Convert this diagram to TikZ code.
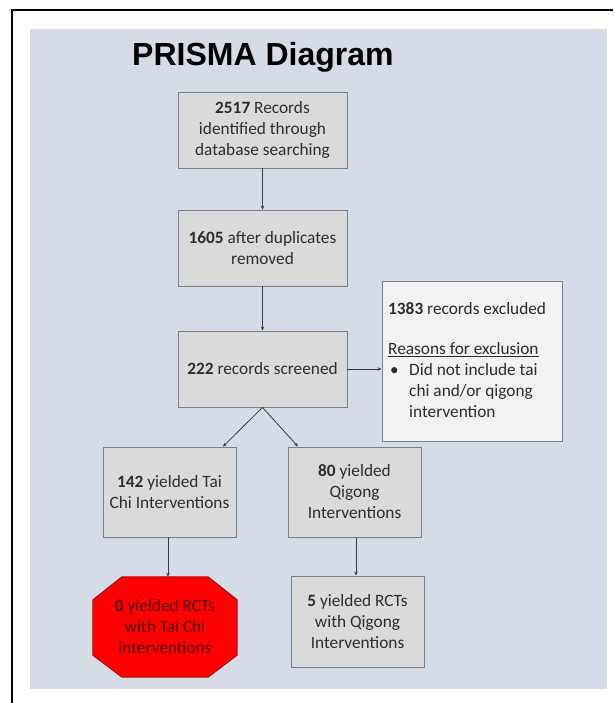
\documentclass[tikz,border=0pt]{standalone}
\usepackage{fontspec}
\setmainfont{Carlito}
\newfontfamily\titlefont{Liberation Sans}
\usetikzlibrary{arrows.meta,calc}
\definecolor{panel}{RGB}{214,220,229}
\definecolor{boxfill}{RGB}{218,218,218}
\definecolor{boxline}{RGB}{118,128,146}
\definecolor{exfill}{RGB}{242,242,242}
\definecolor{txt}{RGB}{45,45,45}
\definecolor{arrowc}{RGB}{60,60,64}
\definecolor{octred}{RGB}{255,0,0}
\definecolor{octline}{RGB}{150,20,20}
\definecolor{octtxt}{RGB}{80,0,0}
\newcommand{\ulx}[1]{\setbox0=\hbox{#1}\rlap{\rule[-3pt]{\wd0}{1.2pt}}#1}
\begin{document}
\begin{tikzpicture}[x=1pt,y=-1pt,
  box/.style={draw=boxline,line width=0.9pt,fill=boxfill,inner sep=2pt,align=center,
    text=txt,font=\fontsize{17.3}{21}\selectfont},
  arr/.style={draw=arrowc,line width=0.8pt,-{Stealth[length=4pt,width=3.5pt]}}]
\useasboundingbox (0,0) rectangle (613,703);
\fill[white] (0,0) rectangle (613,703);
% outer frame lines
\draw[black,line width=1.3pt] (12,703) -- (12,10) -- (613,10);
% panel
\fill[panel] (30,29) rectangle (607,689);
% title
\node[anchor=base west,inner sep=0pt,font=\titlefont\bfseries\fontsize{32}{36}\selectfont] (title) at (132,66) {PRISMA Diagram};
% boxes
\node[box,minimum width=169pt,minimum height=76pt] (b1) at (262.5,130) {\textbf{2517} Records\\identified through\\database searching};
\node[box,minimum width=169pt,minimum height=76pt] (b2) at (262.5,248) {\textbf{1605} after duplicates\\removed};
\node[box,minimum width=169pt,minimum height=76pt] (b3) at (262.5,369) {\textbf{222} records screened};
\node[box,fill=exfill,minimum width=180pt,minimum height=160pt] (ex) at (472,361) {};
\node[anchor=north west,inner sep=0pt,align=left,text=txt,font=\fontsize{17.3}{21}\selectfont] (extext) at (388,302)
  {\textbf{1383} records excluded\\[19pt]
   \ulx{Reasons for exclusion}\\
   \makebox[21pt][l]{\hspace*{2pt}•}Did not include tai\\
   \hspace*{21pt}chi and/or qigong\\
   \hspace*{21pt}intervention};
\node[box,minimum width=133pt,minimum height=90pt] (tc) at (169.5,492) {\textbf{142} yielded Tai\\Chi Interventions};
\node[box,minimum width=133pt,minimum height=90pt] (qg) at (354.5,492) {\textbf{80} yielded\\Qigong\\Interventions};
\node[box,minimum width=133pt,minimum height=91pt] (q5) at (357.5,621.5) {\textbf{5} yielded RCTs\\with Qigong\\Interventions};
% octagon
\node[minimum width=144pt,minimum height=100pt,inner sep=0pt] (oct) at (165,627) {};
\draw[fill=octred,draw=octline,line width=0.8pt]
  ($(oct.north west)+(29,0)$) -- ($(oct.north east)+(-29,0)$) -- ($(oct.north east)+(0,23)$) --
  ($(oct.south east)+(0,-22)$) -- ($(oct.south east)+(-29,0)$) -- ($(oct.south west)+(29,0)$) --
  ($(oct.south west)+(0,-22)$) -- ($(oct.north west)+(0,23)$) -- cycle;
\node[align=center,text=octtxt,font=\fontsize{17.3}{21}\selectfont] (octtext) at (oct.center) {\textbf{0} yielded RCTs\\with Tai Chi\\interventions};
% arrows
\draw[arr] (b1.south) -- (b2.north);
\draw[arr] (b2.south) -- (b3.north);
\draw[arr] (b3.east) -- (b3.east -| ex.west);
\draw[arr] (b3.south) -- ($(tc.north)+(53.5,0)$);
\draw[arr] (b3.south) -- ($(qg.north)+(-56.5,0)$);
\coordinate (t1) at ($(tc.south)+(-1.5,0)$);
\draw[arr] (t1) -- (t1 |- oct.north);
\coordinate (t2) at ($(qg.south)+(1.5,0)$);
\draw[arr] (t2) -- (t2 |- q5.north);
\end{tikzpicture}
\end{document}
